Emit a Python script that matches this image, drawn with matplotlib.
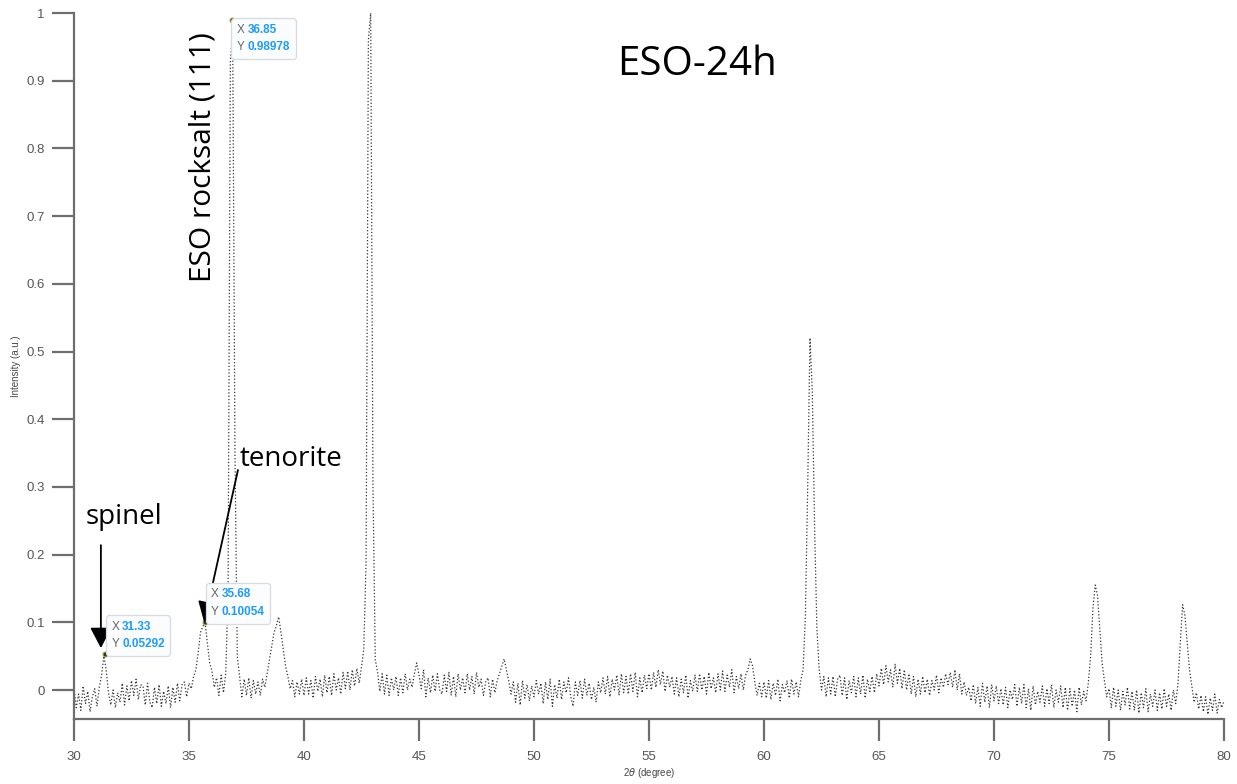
import numpy as np
import matplotlib
matplotlib.use('Agg')
import matplotlib.pyplot as plt
from matplotlib.ticker import FuncFormatter, MultipleLocator
from matplotlib.offsetbox import TextArea, HPacker, VPacker, AnnotationBbox

# 2theta scan, 0.1 degree step from 30 to 80
two_theta = np.round(np.arange(30.0, 80.05, 0.1), 1)

# normalised intensity, one row per degree
intensity = [
    0.004, -0.026, -0.006, -0.030, 0.006, -0.020, -0.002, -0.032, -0.010, 0.002,     # 30
    -0.024, 0.004, 0.022, 0.050, 0.030, -0.004, -0.022, 0.000, -0.026, -0.004,       # 31
    -0.018, 0.010, -0.022, 0.006, -0.016, 0.014, -0.008, 0.016, -0.014, 0.008,       # 32
    0.006, -0.022, 0.010, -0.018, -0.026, 0.004, -0.020, 0.008, -0.024, -0.002,      # 33
    -0.020, 0.006, -0.026, 0.004, -0.018, 0.010, -0.016, 0.008, 0.012, -0.010,       # 34
    0.010, 0.002, 0.020, 0.030, 0.055, 0.085, 0.094, 0.099, 0.070, 0.040,            # 35
    0.028, 0.004, 0.018, -0.008, 0.022, -0.004, 0.025, 0.150, 0.930, 0.970,          # 36
    0.350, 0.050, 0.020, -0.010, 0.016, -0.008, 0.018, -0.012, 0.014, -0.006,        # 37
    0.012, -0.008, 0.016, 0.004, 0.025, 0.045, 0.065, 0.085, 0.095, 0.108,           # 38
    0.085, 0.060, 0.035, 0.020, 0.002, 0.014, -0.010, 0.012, -0.006, 0.016,          # 39
    -0.008, 0.018, -0.006, 0.014, -0.012, 0.020, -0.002, 0.016, -0.010, 0.022,       # 40
    -0.004, 0.020, -0.008, 0.024, 0.000, 0.018, -0.006, 0.026, 0.002, 0.028,         # 41
    0.000, 0.030, 0.006, 0.032, 0.010, 0.034, 0.060, 0.190, 0.960, 1.000,            # 42
    0.300, 0.045, 0.026, -0.002, 0.024, -0.006, 0.022, -0.008, 0.018, 0.000,         # 43
    0.020, -0.008, 0.018, -0.004, 0.024, 0.000, 0.016, 0.004, 0.024, 0.040,          # 44
    0.022, 0.002, 0.030, -0.010, 0.018, -0.004, 0.022, -0.002, 0.024, 0.000,         # 45
    -0.006, 0.022, -0.002, 0.026, -0.008, 0.020, -0.010, 0.024, 0.000, 0.018,        # 46
    -0.004, 0.024, 0.000, 0.020, -0.006, 0.026, 0.004, 0.016, -0.008, 0.012,         # 47
    0.018, -0.010, 0.016, -0.004, 0.014, 0.024, 0.035, 0.046, 0.030, 0.014,          # 48
    -0.006, 0.012, -0.018, 0.010, -0.022, 0.014, -0.012, 0.008, -0.016, 0.006,       # 49
    -0.010, 0.014, -0.006, 0.010, -0.020, 0.012, -0.014, 0.016, -0.024, 0.008,       # 50
    -0.012, 0.016, -0.014, 0.012, -0.004, 0.018, -0.010, -0.024, 0.012, -0.008,      # 51
    0.014, -0.012, 0.016, -0.008, 0.010, -0.014, 0.004, -0.018, 0.012, -0.004,       # 52
    0.018, -0.006, 0.020, -0.010, 0.016, 0.000, 0.022, -0.008, 0.024, -0.004,        # 53
    0.020, -0.006, 0.024, -0.002, 0.026, -0.010, 0.018, -0.004, 0.022, 0.002,        # 54
    0.024, 0.000, 0.026, 0.004, 0.030, 0.008, 0.028, -0.002, 0.022, 0.004,           # 55
    0.020, -0.006, 0.018, -0.010, 0.016, -0.004, 0.022, -0.012, 0.014, -0.002,       # 56
    0.022, -0.002, 0.024, 0.000, 0.020, -0.006, 0.026, 0.002, 0.018, -0.004,         # 57
    0.024, 0.000, 0.028, -0.002, 0.022, 0.004, 0.030, -0.004, 0.020, 0.002,          # 58
    0.024, 0.000, 0.022, 0.030, 0.046, 0.036, 0.012, -0.008, 0.010, -0.010,          # 59
    0.012, -0.012, 0.014, -0.014, 0.010, -0.008, 0.016, -0.016, 0.008, -0.004,       # 60
    0.014, -0.012, 0.016, -0.006, 0.012, -0.010, 0.014, 0.030, 0.110, 0.300,         # 61
    0.520, 0.440, 0.240, 0.090, 0.030, 0.000, 0.020, -0.010, 0.018, -0.006,          # 62
    0.020, -0.010, 0.016, 0.022, -0.008, 0.018, -0.014, 0.014, -0.004, 0.020,        # 63
    -0.010, 0.018, -0.006, 0.022, -0.012, 0.016, -0.002, 0.020, -0.004, 0.024,       # 64
    0.006, 0.032, 0.008, 0.036, 0.012, 0.030, 0.004, 0.038, 0.010, 0.032,            # 65
    0.002, 0.030, 0.000, 0.024, -0.006, 0.020, -0.010, 0.016, -0.006, 0.020,         # 66
    -0.004, 0.016, -0.008, 0.014, 0.000, 0.022, -0.004, 0.018, 0.004, 0.024,         # 67
    0.008, 0.026, 0.004, 0.030, 0.000, 0.024, -0.006, 0.012, -0.008, 0.004,          # 68
    -0.016, 0.008, -0.020, 0.004, -0.024, 0.010, -0.018, 0.006, -0.026, 0.008,       # 69
    -0.016, 0.006, -0.020, 0.002, -0.022, 0.004, -0.026, 0.000, -0.014, 0.008,       # 70
    -0.024, 0.004, -0.020, 0.008, -0.026, 0.002, -0.030, 0.006, -0.022, -0.002,      # 71
    -0.018, 0.006, -0.024, 0.002, -0.020, 0.008, -0.026, 0.000, -0.018, 0.006,       # 72
    -0.026, 0.004, -0.030, 0.002, -0.024, 0.000, -0.032, 0.004, -0.022, -0.002,      # 73
    -0.016, 0.010, 0.050, 0.120, 0.155, 0.140, 0.090, 0.040, 0.014, -0.010,          # 74
    0.002, -0.026, 0.004, -0.024, 0.000, -0.030, -0.002, -0.022, 0.004, -0.028,      # 75
    -0.002, -0.030, 0.000, -0.034, -0.004, -0.026, 0.002, -0.032, -0.006, -0.024,    # 76
    0.000, -0.030, -0.004, -0.028, 0.002, -0.024, -0.006, -0.030, 0.000, -0.020,     # 77
    0.010, 0.070, 0.126, 0.110, 0.070, 0.030, 0.006, -0.018, -0.004, -0.028,         # 78
    -0.008, -0.032, -0.010, -0.036, -0.012, -0.030, -0.006, -0.034, -0.014, -0.026,  # 79
    -0.016,                                                                           # 80
]

# data tips shown on the plot
tip_x = [31.33, 35.68, 36.85]
tip_y = [0.05292, 0.10054, 0.98978]
tip_x_text = ['31.33', '35.68', '36.85']
tip_y_text = ['0.05292', '0.10054', '0.98978']

plt.rcParams['font.family'] = ['Liberation Sans', 'DejaVu Sans']

fig = plt.figure(figsize=(12.37, 7.84), dpi=100)
ax = fig.add_axes([0.0598, 0.0829, 0.9297, 0.9005])

ax.plot(two_theta, intensity, linestyle=':', color='#333333', linewidth=0.9)

ax.set_xlim(30, 80)
ax.set_ylim(-0.0428, 1.0)
ax.xaxis.set_major_locator(MultipleLocator(5))
ax.yaxis.set_major_locator(MultipleLocator(0.1))
ax.yaxis.set_major_formatter(FuncFormatter(lambda v, p: '%g' % round(v, 2)))

for side in ['top', 'right']:
    ax.spines[side].set_visible(False)
for side in ['left', 'bottom']:
    ax.spines[side].set_color('#6e6e6e')
    ax.spines[side].set_linewidth(1.6)
ax.tick_params(direction='out', length=16, width=1.6, color='#6e6e6e',
               labelcolor='#555555', labelsize=9.5, pad=5)
ax.tick_params(axis='x', pad=7)

ax.set_xlabel('2$\\theta$ (degree)', fontsize=7, color='#444444', labelpad=2)
ax.set_ylabel('Intensity (a.u.)', fontsize=7, color='#444444', labelpad=4)

# peak labels
big = ['Open Sans', 'DejaVu Sans']
ax.text(57.09, 0.9085, 'ESO-24h', fontsize=29, family=big, ha='center', va='baseline')
ax.text(35.6, 0.787, 'ESO rocksalt (111)', fontsize=21.5, family=big,
        rotation=90, ha='center', va='center')
ax.text(37.22, 0.331, 'tenorite', fontsize=20, family=big, ha='left', va='baseline')
ax.text(30.52, 0.245, 'spinel', fontsize=20, family=big, ha='left', va='baseline')

arrow = dict(arrowstyle='-|>,head_length=0.42,head_width=0.22', color='black', lw=1.3,
             mutation_scale=30, shrinkA=0, shrinkB=0)
ax.annotate('', xy=(31.17, 0.062), xytext=(31.17, 0.214), arrowprops=arrow)
ax.annotate('', xy=(35.66, 0.100), xytext=(37.13, 0.325), arrowprops=arrow)

# data tip markers and boxes
gray_txt = dict(fontsize=8.5, color='#666666')
blue_txt = dict(fontsize=8.5, color='#1e9bff', fontweight='bold')
offsets = [(7, 4, (0, 0)), (6.5, 4, (0, 0)), (5.5, -4, (0, 1))]
for i in range(3):
    ax.plot(tip_x[i], tip_y[i], 'o', ms=3.5, mfc='#333322', mec='#a09a40', mew=0.8)
    dx, dy, align = offsets[i]
    row_x = HPacker(children=[TextArea('X', textprops=gray_txt),
                              TextArea(tip_x_text[i], textprops=blue_txt)],
                    sep=2, pad=0, align='baseline')
    row_y = HPacker(children=[TextArea('Y', textprops=gray_txt),
                              TextArea(tip_y_text[i], textprops=blue_txt)],
                    sep=2, pad=0, align='baseline')
    box = VPacker(children=[row_x, row_y], sep=4, pad=0, align='left')
    ab = AnnotationBbox(box, (tip_x[i], tip_y[i]), xybox=(dx, dy),
                        xycoords='data', boxcoords='offset pixels',
                        box_alignment=align, frameon=True, pad=0.4,
                        bboxprops=dict(boxstyle='round,pad=0.4,rounding_size=0.25',
                                       fc='#fbfcfe', ec='#d6dbe2', lw=0.9))
    ax.add_artist(ab)

plt.savefig('out.png', dpi=100)
